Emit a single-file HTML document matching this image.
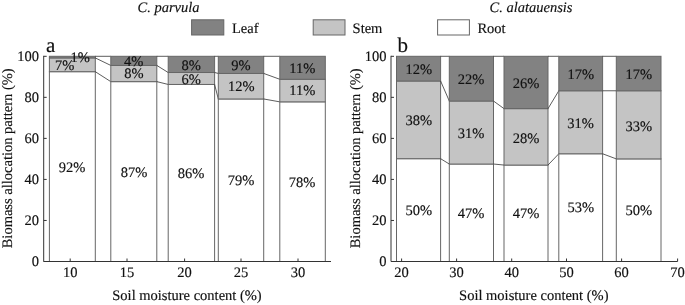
<!DOCTYPE html>
<html><head><meta charset="utf-8"><title>Biomass allocation</title>
<style>
html,body{margin:0;padding:0;background:#fff;}
svg{display:block;text-rendering:geometricPrecision}
text{font-family:"Liberation Serif","Times New Roman",serif;fill:#111;stroke:#111;stroke-width:0.15px;}
.t{font-size:14.5px}
.v{font-size:14.5px}
.i{font-size:14.5px;font-style:italic}
.L{font-size:21px}
</style></head><body>
<svg width="685" height="305" viewBox="0 0 685 305">
<rect width="685" height="305" fill="#fff"/>
<rect x="49.4" y="71.69" width="45.90" height="189.81" fill="#ffffff" stroke="#666" stroke-width="1"/>
<rect x="49.4" y="57.94" width="45.90" height="13.75" fill="#c4c4c4" stroke="#666" stroke-width="1"/>
<rect x="49.4" y="56.30" width="45.90" height="1.64" fill="#828282" stroke="#666" stroke-width="1"/>
<line x1="95.3" y1="71.69" x2="110.8" y2="81.64" stroke="#333" stroke-width="0.8"/>
<line x1="95.3" y1="57.94" x2="110.8" y2="65.43" stroke="#333" stroke-width="0.8"/>
<line x1="95.3" y1="56.30" x2="110.8" y2="56.30" stroke="#333" stroke-width="0.8"/>
<text x="64.6" y="70.3" text-anchor="middle" class="v">7%</text>
<text x="80.1" y="62.2" text-anchor="middle" class="v">1%</text>
<text x="72" y="171.8" text-anchor="middle" class="v">92%</text>
<rect x="110.8" y="81.64" width="46.00" height="179.86" fill="#ffffff" stroke="#666" stroke-width="1"/>
<rect x="110.8" y="65.43" width="46.00" height="16.21" fill="#c4c4c4" stroke="#666" stroke-width="1"/>
<rect x="110.8" y="56.30" width="46.00" height="9.13" fill="#828282" stroke="#666" stroke-width="1"/>
<line x1="156.8" y1="81.64" x2="168.2" y2="84.45" stroke="#333" stroke-width="0.8"/>
<line x1="156.8" y1="65.43" x2="168.2" y2="72.51" stroke="#333" stroke-width="0.8"/>
<line x1="156.8" y1="56.30" x2="168.2" y2="56.30" stroke="#333" stroke-width="0.8"/>
<text x="133.6" y="65.5" text-anchor="middle" class="v">4%</text>
<text x="133.8" y="77.7" text-anchor="middle" class="v">8%</text>
<text x="134" y="176.8" text-anchor="middle" class="v">87%</text>
<rect x="168.2" y="84.45" width="46.40" height="177.05" fill="#ffffff" stroke="#666" stroke-width="1"/>
<rect x="168.2" y="72.51" width="46.40" height="11.94" fill="#c4c4c4" stroke="#666" stroke-width="1"/>
<rect x="168.2" y="56.30" width="46.40" height="16.21" fill="#828282" stroke="#666" stroke-width="1"/>
<line x1="214.6" y1="84.45" x2="218.3" y2="98.98" stroke="#333" stroke-width="0.8"/>
<line x1="214.6" y1="72.51" x2="218.3" y2="73.43" stroke="#333" stroke-width="0.8"/>
<line x1="214.6" y1="56.30" x2="218.3" y2="56.30" stroke="#333" stroke-width="0.8"/>
<text x="191.2" y="69.7" text-anchor="middle" class="v">8%</text>
<text x="191.2" y="83.7" text-anchor="middle" class="v">6%</text>
<text x="191" y="177.8" text-anchor="middle" class="v">86%</text>
<rect x="218.3" y="98.98" width="45.40" height="162.52" fill="#ffffff" stroke="#666" stroke-width="1"/>
<rect x="218.3" y="73.43" width="45.40" height="25.55" fill="#c4c4c4" stroke="#666" stroke-width="1"/>
<rect x="218.3" y="56.30" width="45.40" height="17.13" fill="#828282" stroke="#666" stroke-width="1"/>
<line x1="263.7" y1="98.98" x2="279.8" y2="101.85" stroke="#333" stroke-width="0.8"/>
<line x1="263.7" y1="73.43" x2="279.8" y2="79.28" stroke="#333" stroke-width="0.8"/>
<line x1="263.7" y1="56.30" x2="279.8" y2="56.30" stroke="#333" stroke-width="0.8"/>
<text x="241" y="69.7" text-anchor="middle" class="v">9%</text>
<text x="241.2" y="91.2" text-anchor="middle" class="v">12%</text>
<text x="241" y="185" text-anchor="middle" class="v">79%</text>
<rect x="279.8" y="101.85" width="45.50" height="159.65" fill="#ffffff" stroke="#666" stroke-width="1"/>
<rect x="279.8" y="79.28" width="45.50" height="22.57" fill="#c4c4c4" stroke="#666" stroke-width="1"/>
<rect x="279.8" y="56.30" width="45.50" height="22.98" fill="#828282" stroke="#666" stroke-width="1"/>
<text x="302.2" y="72.5" text-anchor="middle" class="v">11%</text>
<text x="302.2" y="95.3" text-anchor="middle" class="v">11%</text>
<text x="302" y="186.8" text-anchor="middle" class="v">78%</text>
<path d="M43.7 55.8 V261.5 H331" fill="none" stroke="#333" stroke-width="1"/>
<line x1="43.7" y1="261.50" x2="46.7" y2="261.50" stroke="#333" stroke-width="1"/>
<text x="39.1" y="266.30" text-anchor="end" class="t">0</text>
<line x1="43.7" y1="220.46" x2="46.7" y2="220.46" stroke="#333" stroke-width="1"/>
<text x="39.1" y="225.26" text-anchor="end" class="t">20</text>
<line x1="43.7" y1="179.42" x2="46.7" y2="179.42" stroke="#333" stroke-width="1"/>
<text x="39.1" y="184.22" text-anchor="end" class="t">40</text>
<line x1="43.7" y1="138.38" x2="46.7" y2="138.38" stroke="#333" stroke-width="1"/>
<text x="39.1" y="143.18" text-anchor="end" class="t">60</text>
<line x1="43.7" y1="97.34" x2="46.7" y2="97.34" stroke="#333" stroke-width="1"/>
<text x="39.1" y="102.14" text-anchor="end" class="t">80</text>
<line x1="43.7" y1="56.30" x2="46.7" y2="56.30" stroke="#333" stroke-width="1"/>
<text x="39.1" y="61.10" text-anchor="end" class="t">100</text>
<line x1="70.2" y1="261.5" x2="70.2" y2="258.5" stroke="#333" stroke-width="1"/>
<text x="70.2" y="277.3" text-anchor="middle" class="t">10</text>
<line x1="127" y1="261.5" x2="127" y2="258.5" stroke="#333" stroke-width="1"/>
<text x="127" y="277.3" text-anchor="middle" class="t">15</text>
<line x1="184.6" y1="261.5" x2="184.6" y2="258.5" stroke="#333" stroke-width="1"/>
<text x="184.6" y="277.3" text-anchor="middle" class="t">20</text>
<line x1="241" y1="261.5" x2="241" y2="258.5" stroke="#333" stroke-width="1"/>
<text x="241" y="277.3" text-anchor="middle" class="t">25</text>
<line x1="298" y1="261.5" x2="298" y2="258.5" stroke="#333" stroke-width="1"/>
<text x="298" y="277.3" text-anchor="middle" class="t">30</text>
<text x="46" y="52" class="L">a</text>
<text x="187" y="300.4" text-anchor="middle" class="t">Soil moisture content (%)</text>
<text transform="translate(12.2 158.3) rotate(-90)" text-anchor="middle" class="t">Biomass allocation pattern (%)</text>
<rect x="396.5" y="158.69" width="44.10" height="102.81" fill="#ffffff" stroke="#666" stroke-width="1"/>
<rect x="396.5" y="81.03" width="44.10" height="77.67" fill="#c4c4c4" stroke="#666" stroke-width="1"/>
<rect x="396.5" y="56.30" width="44.10" height="24.73" fill="#828282" stroke="#666" stroke-width="1"/>
<line x1="440.6" y1="158.69" x2="449.3" y2="164.03" stroke="#333" stroke-width="0.8"/>
<line x1="440.6" y1="81.03" x2="449.3" y2="101.03" stroke="#333" stroke-width="0.8"/>
<line x1="440.6" y1="56.30" x2="449.3" y2="56.30" stroke="#333" stroke-width="0.8"/>
<text x="418.7" y="74" text-anchor="middle" class="v">12%</text>
<text x="418.9" y="124.8" text-anchor="middle" class="v">38%</text>
<text x="418.9" y="214.8" text-anchor="middle" class="v">50%</text>
<rect x="449.3" y="164.03" width="44.20" height="97.47" fill="#ffffff" stroke="#666" stroke-width="1"/>
<rect x="449.3" y="101.03" width="44.20" height="63.00" fill="#c4c4c4" stroke="#666" stroke-width="1"/>
<rect x="449.3" y="56.30" width="44.20" height="44.73" fill="#828282" stroke="#666" stroke-width="1"/>
<line x1="493.5" y1="164.03" x2="504.0" y2="165.06" stroke="#333" stroke-width="0.8"/>
<line x1="493.5" y1="101.03" x2="504.0" y2="108.63" stroke="#333" stroke-width="0.8"/>
<line x1="493.5" y1="56.30" x2="504.0" y2="56.30" stroke="#333" stroke-width="0.8"/>
<text x="471" y="84" text-anchor="middle" class="v">22%</text>
<text x="471" y="137.8" text-anchor="middle" class="v">31%</text>
<text x="471" y="217.8" text-anchor="middle" class="v">47%</text>
<rect x="504.0" y="165.06" width="44.00" height="96.44" fill="#ffffff" stroke="#666" stroke-width="1"/>
<rect x="504.0" y="108.63" width="44.00" height="56.43" fill="#c4c4c4" stroke="#666" stroke-width="1"/>
<rect x="504.0" y="56.30" width="44.00" height="52.33" fill="#828282" stroke="#666" stroke-width="1"/>
<line x1="548.0" y1="165.06" x2="558.8" y2="153.77" stroke="#333" stroke-width="0.8"/>
<line x1="548.0" y1="108.63" x2="558.8" y2="90.77" stroke="#333" stroke-width="0.8"/>
<line x1="548.0" y1="56.30" x2="558.8" y2="56.30" stroke="#333" stroke-width="0.8"/>
<text x="526" y="88" text-anchor="middle" class="v">26%</text>
<text x="526" y="142.8" text-anchor="middle" class="v">28%</text>
<text x="526" y="217.8" text-anchor="middle" class="v">47%</text>
<rect x="558.8" y="153.77" width="43.80" height="107.73" fill="#ffffff" stroke="#666" stroke-width="1"/>
<rect x="558.8" y="90.77" width="43.80" height="63.00" fill="#c4c4c4" stroke="#666" stroke-width="1"/>
<rect x="558.8" y="56.30" width="43.80" height="34.47" fill="#828282" stroke="#666" stroke-width="1"/>
<line x1="602.6" y1="153.77" x2="616.3" y2="158.90" stroke="#333" stroke-width="0.8"/>
<line x1="602.6" y1="90.77" x2="616.3" y2="90.77" stroke="#333" stroke-width="0.8"/>
<line x1="602.6" y1="56.30" x2="616.3" y2="56.30" stroke="#333" stroke-width="0.8"/>
<text x="580.9" y="78.8" text-anchor="middle" class="v">17%</text>
<text x="580.6" y="127.5" text-anchor="middle" class="v">31%</text>
<text x="580.9" y="212.1" text-anchor="middle" class="v">53%</text>
<rect x="616.3" y="158.90" width="44.70" height="102.60" fill="#ffffff" stroke="#666" stroke-width="1"/>
<rect x="616.3" y="90.77" width="44.70" height="68.13" fill="#c4c4c4" stroke="#666" stroke-width="1"/>
<rect x="616.3" y="56.30" width="44.70" height="34.47" fill="#828282" stroke="#666" stroke-width="1"/>
<text x="638.9" y="78.8" text-anchor="middle" class="v">17%</text>
<text x="638.9" y="130.8" text-anchor="middle" class="v">33%</text>
<text x="638.7" y="215.1" text-anchor="middle" class="v">50%</text>
<path d="M391 55.8 V261.5 H677.6" fill="none" stroke="#333" stroke-width="1"/>
<line x1="391" y1="261.50" x2="394" y2="261.50" stroke="#333" stroke-width="1"/>
<text x="386.4" y="266.30" text-anchor="end" class="t">0</text>
<line x1="391" y1="220.46" x2="394" y2="220.46" stroke="#333" stroke-width="1"/>
<text x="386.4" y="225.26" text-anchor="end" class="t">20</text>
<line x1="391" y1="179.42" x2="394" y2="179.42" stroke="#333" stroke-width="1"/>
<text x="386.4" y="184.22" text-anchor="end" class="t">40</text>
<line x1="391" y1="138.38" x2="394" y2="138.38" stroke="#333" stroke-width="1"/>
<text x="386.4" y="143.18" text-anchor="end" class="t">60</text>
<line x1="391" y1="97.34" x2="394" y2="97.34" stroke="#333" stroke-width="1"/>
<text x="386.4" y="102.14" text-anchor="end" class="t">80</text>
<line x1="391" y1="56.30" x2="394" y2="56.30" stroke="#333" stroke-width="1"/>
<text x="386.4" y="61.10" text-anchor="end" class="t">100</text>
<line x1="401.6" y1="261.5" x2="401.6" y2="258.5" stroke="#333" stroke-width="1"/>
<text x="401.6" y="277.3" text-anchor="middle" class="t">20</text>
<line x1="456.6" y1="261.5" x2="456.6" y2="258.5" stroke="#333" stroke-width="1"/>
<text x="456.6" y="277.3" text-anchor="middle" class="t">30</text>
<line x1="511.7" y1="261.5" x2="511.7" y2="258.5" stroke="#333" stroke-width="1"/>
<text x="511.7" y="277.3" text-anchor="middle" class="t">40</text>
<line x1="566.5" y1="261.5" x2="566.5" y2="258.5" stroke="#333" stroke-width="1"/>
<text x="566.5" y="277.3" text-anchor="middle" class="t">50</text>
<line x1="621.6" y1="261.5" x2="621.6" y2="258.5" stroke="#333" stroke-width="1"/>
<text x="621.6" y="277.3" text-anchor="middle" class="t">60</text>
<line x1="677.6" y1="261.5" x2="677.6" y2="258.5" stroke="#333" stroke-width="1"/>
<text x="677.6" y="277.3" text-anchor="middle" class="t">70</text>
<text x="397.6" y="52" class="L">b</text>
<text x="533.8" y="300.4" text-anchor="middle" class="t">Soil moisture content (%)</text>
<text transform="translate(359.7 158.3) rotate(-90)" text-anchor="middle" class="t">Biomass allocation pattern (%)</text>

<rect x="191.6" y="19.8" width="32.2" height="15.2" fill="#828282" stroke="#666" stroke-width="1"/>
<text x="232" y="33" class="t">Leaf</text>
<rect x="313.2" y="19.8" width="31.8" height="15.2" fill="#c4c4c4" stroke="#666" stroke-width="1"/>
<text x="352.6" y="33" class="t">Stem</text>
<rect x="437.6" y="19.8" width="31.8" height="15.2" fill="#ffffff" stroke="#666" stroke-width="1"/>
<text x="477.4" y="33" class="t">Root</text>
<text x="168.5" y="12" text-anchor="middle" class="i">C. parvula</text>
<text x="531" y="12" text-anchor="middle" class="i">C. alatauensis</text>

</svg>
</body></html>
